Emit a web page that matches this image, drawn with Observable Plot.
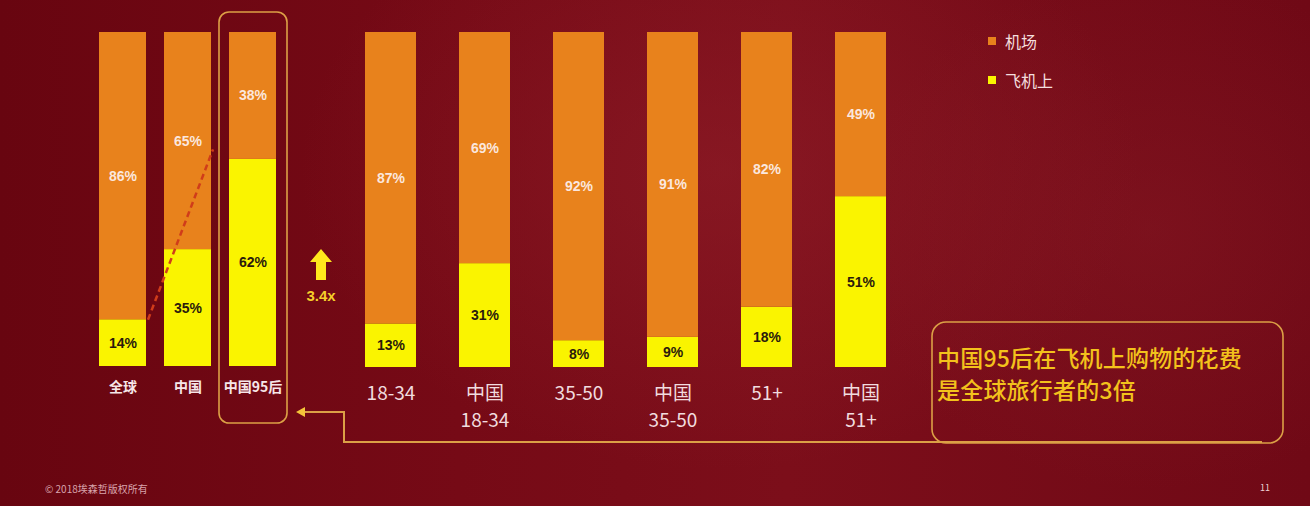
<!DOCTYPE html>
<html>
<head>
<meta charset="utf-8">
<script src="https://cdn.jsdelivr.net/npm/d3@7"></script>
<script src="https://cdn.jsdelivr.net/npm/@observablehq/plot@0.6"></script>
<style>
  html, body { margin: 0; padding: 0; background: #6e0812; }
  #stage {
    position: relative; width: 1310px; height: 506px; overflow: hidden;
    background:
      radial-gradient(ellipse 420px 300px at 720px 170px, rgba(150,35,45,0.45), rgba(150,35,45,0) 100%),
      radial-gradient(ellipse 300px 260px at 1150px 230px, rgba(140,30,40,0.35), rgba(140,30,40,0) 100%),
      linear-gradient(90deg, #680510 0%, #760a16 35%, #7c0e1a 60%, #700916 100%);
    font-family: "Noto Sans CJK SC", "Noto Sans", sans-serif;
  }
  .layer { position: absolute; left: 0; top: 0; }
  .legend { position: absolute; left: 988px; color: #f4dede; font-size: 16px; line-height: 20px; }
  .legend span.sw { display: inline-block; width: 8px; height: 8px; margin-right: 9px; vertical-align: 3px; }
  .note { position: absolute; left: 937px; top: 341px; color: #f3c21c; font-size: 23px; line-height: 32px; font-weight: 500; letter-spacing: 0.2px; }
  .foot { position: absolute; top: 481px; color: #d9a4ac; font-size: 10px; }
</style>
</head>
<body>
<div id="stage"></div>
<script>
// ---- data ----
const seriesNames = ["飞机上", "机场"];
const seriesColors = ["#FAF400", "#E8821C"];

const categoriesL = ["全球", "中国", "中国95后"];
const tickLabelsL = ["全球", "中国", "中国95后"];
const inflightL = [14, 35, 62];
const airportL = [86, 65, 38];

const categoriesR = ["18-34", "中国18-34", "35-50", "中国35-50", "51+", "中国51+"];
const tickLabelsR = ["18-34", "中国\n18-34", "35-50", "中国\n35-50", "51+", "中国\n51+"];
const inflightR = [13, 31, 8, 9, 18, 51];
const airportR = [87, 69, 92, 91, 82, 49];

const multiplier = "3.4x";
const noteLines = ["中国95后在飞机上购物的花费", "是全球旅行者的3倍"];

// ---- build tables ----
function rows(cats, inflight, airport) {
  return cats.flatMap((c, i) => [
    {cat: c, series: seriesNames[0], value: inflight[i]},
    {cat: c, series: seriesNames[1], value: airport[i]}
  ]);
}
const dataL = rows(categoriesL, inflightL, airportL);
const dataR = rows(categoriesR, inflightR, airportR);

const W = 1310, H = 506;
const pctFont = "'Liberation Sans', Arial, sans-serif";

function barMarks(data) {
  return [
    Plot.barY(data, {x: "cat", y: "value", fill: "series"}),
    Plot.text(data, Plot.stackY({x: "cat", y: "value",
      text: d => d.series === "机场" ? d.value + "%" : null,
      fill: "#fbe7de", fontSize: 14, fontWeight: "bold", fontFamily: pctFont})),
    Plot.text(data, Plot.stackY({x: "cat", y: "value",
      text: d => d.series === "飞机上" ? d.value + "%" : null,
      fill: "#2b1a0c", fontSize: 14, fontWeight: "bold", fontFamily: pctFont}))
  ];
}

const stage = document.getElementById("stage");

const leftPlot = Plot.plot({
  width: W, height: H,
  marginTop: 32, marginBottom: 140, marginLeft: 0, marginRight: 0,
  style: {background: "transparent", overflow: "visible"},
  x: {domain: categoriesL, range: [80, 295], paddingInner: 0.28, paddingOuter: 0.28, axis: null},
  y: {domain: [0, 100], axis: null},
  color: {domain: seriesNames, range: seriesColors},
  marks: [
    ...barMarks(dataL),
    Plot.link([{from: categoriesL[0], to: categoriesL[1]}], {
      x1: "from", x2: "to", y1: () => inflightL[0], y2: () => airportL[1],
      dx: 25, stroke: "#d03c1a", strokeWidth: 2.5, strokeDasharray: "6,4"
    }),
    Plot.axisX({domain: categoriesL, tickSize: 0, tickPadding: 16, fontSize: 14, fontWeight: "bold",
      fill: "#f6e6e8", fontFamily: "'Noto Sans CJK SC', sans-serif", label: null,
      tickFormat: d => tickLabelsL[categoriesL.indexOf(d)]})
  ]
});
leftPlot.classList.add("layer");
stage.appendChild(leftPlot);

const rightPlot = Plot.plot({
  width: W, height: H,
  marginTop: 32, marginBottom: 139, marginLeft: 0, marginRight: 0,
  style: {background: "transparent", overflow: "visible"},
  x: {domain: categoriesR, range: [320.6, 930.4], paddingInner: 0.46, paddingOuter: 0.46, axis: null, label: null},
  y: {domain: [0, 100], axis: null},
  color: {domain: seriesNames, range: seriesColors},
  marks: [
    ...barMarks(dataR),
    Plot.axisX({tickSize: 0, tickPadding: 13, fontSize: 19, lineHeight: 1.42, label: null,
      fill: "#f1dcdf", fontFamily: "'Noto Sans CJK SC', sans-serif",
      tickFormat: d => tickLabelsR[categoriesR.indexOf(d)]})
  ]
});
rightPlot.classList.add("layer");
stage.appendChild(rightPlot);

// ---- annotations overlay ----
const sx = leftPlot.scale("x");
const hx0 = sx.apply(categoriesL[2]) - 10;
const hx1 = sx.apply(categoriesL[2]) + sx.bandwidth + 11;

const svg = d3.select(stage).append("svg").attr("class", "layer")
  .attr("width", W).attr("height", H);

const gold = "#dca046";
svg.append("rect").attr("x", hx0).attr("y", 12).attr("width", hx1 - hx0).attr("height", 411)
  .attr("rx", 10).attr("fill", "none").attr("stroke", gold).attr("stroke-width", 1.6);

// connector
svg.append("path").attr("d", "M302,412 H344 V442 H1262")
  .attr("fill", "none").attr("stroke", gold).attr("stroke-width", 2);
svg.append("path").attr("d", "M296,412 L305,407 L305,417 Z").attr("fill", "#f5c43a");

// note box
svg.append("rect").attr("x", 932).attr("y", 322).attr("width", 351).attr("height", 121)
  .attr("rx", 14).attr("fill", "none").attr("stroke", gold).attr("stroke-width", 1.6);

// up arrow + multiplier
svg.append("path").attr("d", "M321,249 L332,262 L326,262 L326,280 L316,280 L316,262 L310,262 Z")
  .attr("fill", "#ffe81c");
svg.append("text").attr("x", 321).attr("y", 301).attr("text-anchor", "middle")
  .attr("fill", "#f5cf2a").attr("font-size", 15).attr("font-weight", "bold")
  .attr("font-family", "'Liberation Sans', Arial, sans-serif").text(multiplier);

// legend
seriesNames.slice().reverse().forEach((s, i) => {
  const div = document.createElement("div");
  div.className = "legend";
  div.style.top = (31 + i * 39) + "px";
  div.innerHTML = `<span class="sw" style="background:${seriesColors[seriesNames.indexOf(s)]}"></span>${s}`;
  stage.appendChild(div);
});

// note text
const note = document.createElement("div");
note.className = "note";
note.innerHTML = noteLines.join("<br>");
stage.appendChild(note);

// footer
const f1 = document.createElement("div");
f1.className = "foot"; f1.style.left = "45px"; f1.textContent = "© 2018埃森哲版权所有";
stage.appendChild(f1);
const f2 = document.createElement("div");
f2.className = "foot"; f2.style.left = "1260px"; f2.style.fontSize = "9px"; f2.style.color = "#ecd0d4"; f2.textContent = "11";
stage.appendChild(f2);
</script>
</body>
</html>
